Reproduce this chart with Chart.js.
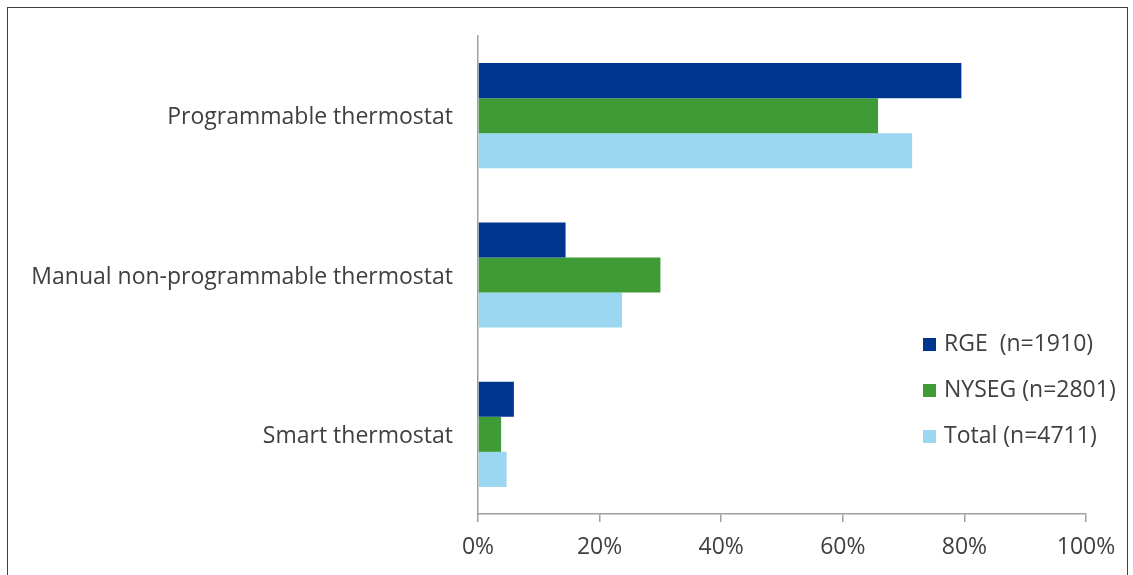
<!DOCTYPE html>
<html>
<head>
<meta charset="utf-8">
<script src="https://cdn.jsdelivr.net/npm/chart.js@4.4.1/dist/chart.umd.min.js"></script>
<style>
  html, body { margin: 0; padding: 0; background: #fff; overflow: hidden; }
  #wrap { position: relative; width: 1133px; height: 575px; }
  #frame { position: absolute; left: 7px; top: 7px; width: 1121px; height: 620px;
           border: 1.5px solid #404040; box-sizing: border-box; }
  canvas { position: absolute; left: 0; top: 0; }
</style>
</head>
<body>
<div id="wrap">
  <div id="frame"></div>
  <canvas id="thermoChart" width="1133" height="575"></canvas>
</div>
<script>
// thermostat type shares (%) by utility
const categories = ['Programmable thermostat', 'Manual non-programmable thermostat', 'Smart thermostat'];
const seriesNames = ['RGE  (n=1910)', 'NYSEG (n=2801)', 'Total (n=4711)'];
const rgeValues = [79.5, 14.4, 5.9];
const nysegValues = [65.8, 30.0, 3.8];
const totalValues = [71.4, 23.7, 4.7];
const xTicks = [0, 20, 40, 60, 80, 100];

const colors = ['#00358f', '#3f9b35', '#9bd7f0'];
const textColor = '#404040';
const axisColor = '#a0a0a0';
const fontFamily = '"Open Sans", "DejaVu Sans", sans-serif';
const fontSize = 23;

// legend drawn to the right, inside the plot
const sideLegend = {
    id: 'sideLegend',
    afterDraw(chart) {
        const ctx = chart.ctx;
        ctx.save();
        ctx.font = `${fontSize}px ${fontFamily}`;
        ctx.textBaseline = 'middle';
        chart.data.datasets.forEach((ds, i) => {
            const y = 344 + i * 46;
            ctx.fillStyle = ds.backgroundColor;
            ctx.fillRect(923, y - 6, 13, 13);
            ctx.fillStyle = textColor;
            ctx.fillText(ds.label, 944, y);
        });
        ctx.restore();
    }
};

const ctx = document.getElementById('thermoChart').getContext('2d');
new Chart(ctx, {
    type: 'bar',
    data: {
        labels: categories,
        datasets: [
            { label: seriesNames[0], data: rgeValues, backgroundColor: colors[0] },
            { label: seriesNames[1], data: nysegValues, backgroundColor: colors[1] },
            { label: seriesNames[2], data: totalValues, backgroundColor: colors[2] }
        ]
    },
    options: {
        indexAxis: 'y',
        responsive: false,
        animation: false,
        layout: { padding: { top: 36, right: 47, left: 0, bottom: 0 } },
        datasets: { bar: { categoryPercentage: 0.66, barPercentage: 1.0 } },
        plugins: { legend: { display: false }, tooltip: { enabled: false } },
        scales: {
            x: {
                min: 0,
                max: 100,
                afterBuildTicks: (scale) => { scale.ticks = xTicks.map(v => ({ value: v })); },
                grid: { drawOnChartArea: false, drawTicks: true, tickLength: 8, color: axisColor, lineWidth: 1.5 },
                border: { display: true, color: axisColor, width: 1.5 },
                ticks: {
                    callback: (v) => v + '%',
                    color: textColor,
                    font: { family: fontFamily, size: fontSize },
                    padding: 12,
                    maxRotation: 0
                },
                afterFit: (scale) => { scale.height = 61; }
            },
            y: {
                grid: { display: false },
                border: { display: true, color: axisColor, width: 1.5 },
                ticks: {
                    color: textColor,
                    font: { family: fontFamily, size: fontSize },
                    padding: 17,
                    labelOffset: 2
                },
                afterFit: (scale) => { scale.width = 478; }
            }
        }
    },
    plugins: [sideLegend]
});
</script>
</body>
</html>
